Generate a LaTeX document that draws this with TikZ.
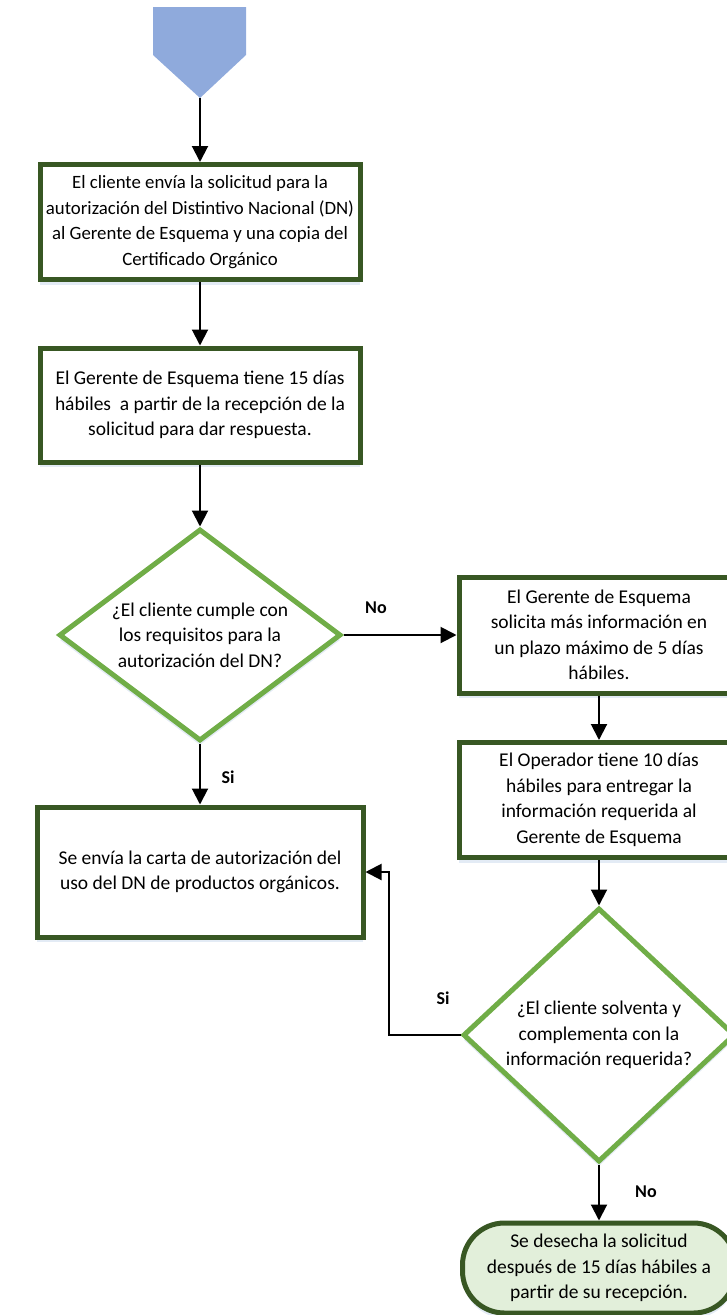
\documentclass[tikz,border=0pt]{standalone}
\usepackage{fontspec}
\setmainfont{Carlito}
\usetikzlibrary{arrows.meta,shapes.geometric,shadows}

\definecolor{verdeoscuro}{HTML}{385723}
\definecolor{verdeclaro}{HTML}{70AD47}
\definecolor{rellenofin}{HTML}{E2EFDA}
\definecolor{azulinicio}{HTML}{8FAADC}
\definecolor{sombra}{HTML}{DCE6F2}

\tikzset{
  texto/.style={align=center, font=\fontsize{19.5}{25.5}\selectfont},
  sombreado/.style={drop shadow={shadow xshift=0pt, shadow yshift=-5pt, fill=sombra, opacity=.8}},
  proceso/.style={texto, draw=verdeoscuro, line width=5pt, fill=white, inner sep=2pt, sombreado},
  decision/.style={diamond, draw=verdeclaro, line width=5pt, fill=white, inner sep=0pt, sombreado},
  fin/.style={texto, draw=verdeoscuro, line width=5pt, fill=rellenofin, rounded corners=42pt, sombreado},
  flecha/.style={line width=2pt, -{Triangle[length=16pt,width=16pt]}},
  etiqueta/.style={font=\bfseries\fontsize{18}{20}\selectfont},
}

\begin{document}
\begin{tikzpicture}[x=1pt,y=-1pt]
\useasboundingbox (0,0) rectangle (727,1315);

%% inicio
\fill[azulinicio] (153,7) -- (246,7) -- (246,55) -- (200,98) -- (153,55) -- cycle;
\coordinate (inicio) at (200,98);

%% pasos
\node[proceso, font=\fontsize{18.8}{25.5}\selectfont, minimum width=320pt, minimum height=115pt] (c1) at (200,222) {El cliente envía la solicitud para la\\ autorización del Distintivo Nacional (DN)\\ al Gerente de Esquema y una copia del\\ Certificado Orgánico};
\node[proceso, minimum width=320pt, minimum height=114pt] (c2) at (200,405) {El Gerente de Esquema tiene 15 días\\ hábiles \ a partir de la recepción de la\\ solicitud para dar respuesta.};
\node[decision, minimum width=282pt, minimum height=212pt] (q1) at (200,635) {};
\node[texto] (q1txt) at (q1) {¿El cliente cumple con\\ los requisitos para la\\ autorización del DN?};
\node[proceso, minimum width=280pt, minimum height=116pt] (c3) at (599,635) {El Gerente de Esquema\\ solicita más información en\\ un plazo máximo de 5 días\\ hábiles.};
\node[proceso, minimum width=280pt, minimum height=115pt] (c4) at (599,800) {El Operador tiene 10 días\\ hábiles para entregar la\\ información requerida al\\ Gerente de Esquema};
\node[proceso, minimum width=326pt, minimum height=130pt] (c5) at (200,872) {Se envía la carta de autorización del\\ uso del DN de productos orgánicos.};
\node[decision, minimum width=272pt, minimum height=254pt] (q2) at (599,1035) {};
\node[texto] (q2txt) at (q2) {¿El cliente solventa y\\ complementa con la\\ información requerida?};
\node[fin, minimum width=273pt, minimum height=90pt] (f1) at (599,1268) {Se desecha la solicitud\\ después de 15 días hábiles a\\ partir de su recepción.};

%% etiquetas
\node[etiqueta] (no1) at (376,608) {No};
\node[etiqueta] (si1) at (228,777) {Si};
\node[etiqueta] (si2) at (443,998) {Si};
\node[etiqueta] (no2) at (646,1192) {No};

%%% flechas
\coordinate (codo) at (389,1035);
\draw[flecha] (inicio) -- (c1.north);
\draw[flecha] (c1.south) -- (c2.north);
\draw[flecha] (c2.south) -- (q1.north);
\draw[flecha] (q1.east) -- (c3.west);
\draw[flecha] (q1.south) -- (c5.north);
\draw[flecha] (c3.south) -- (c4.north);
\draw[flecha] (c4.south) -- (q2.north);
\draw[flecha] (q2.west) -- (codo) |- (c5.east);
\draw[flecha] (q2.south) -- (f1.north);

\end{tikzpicture}
\end{document}
